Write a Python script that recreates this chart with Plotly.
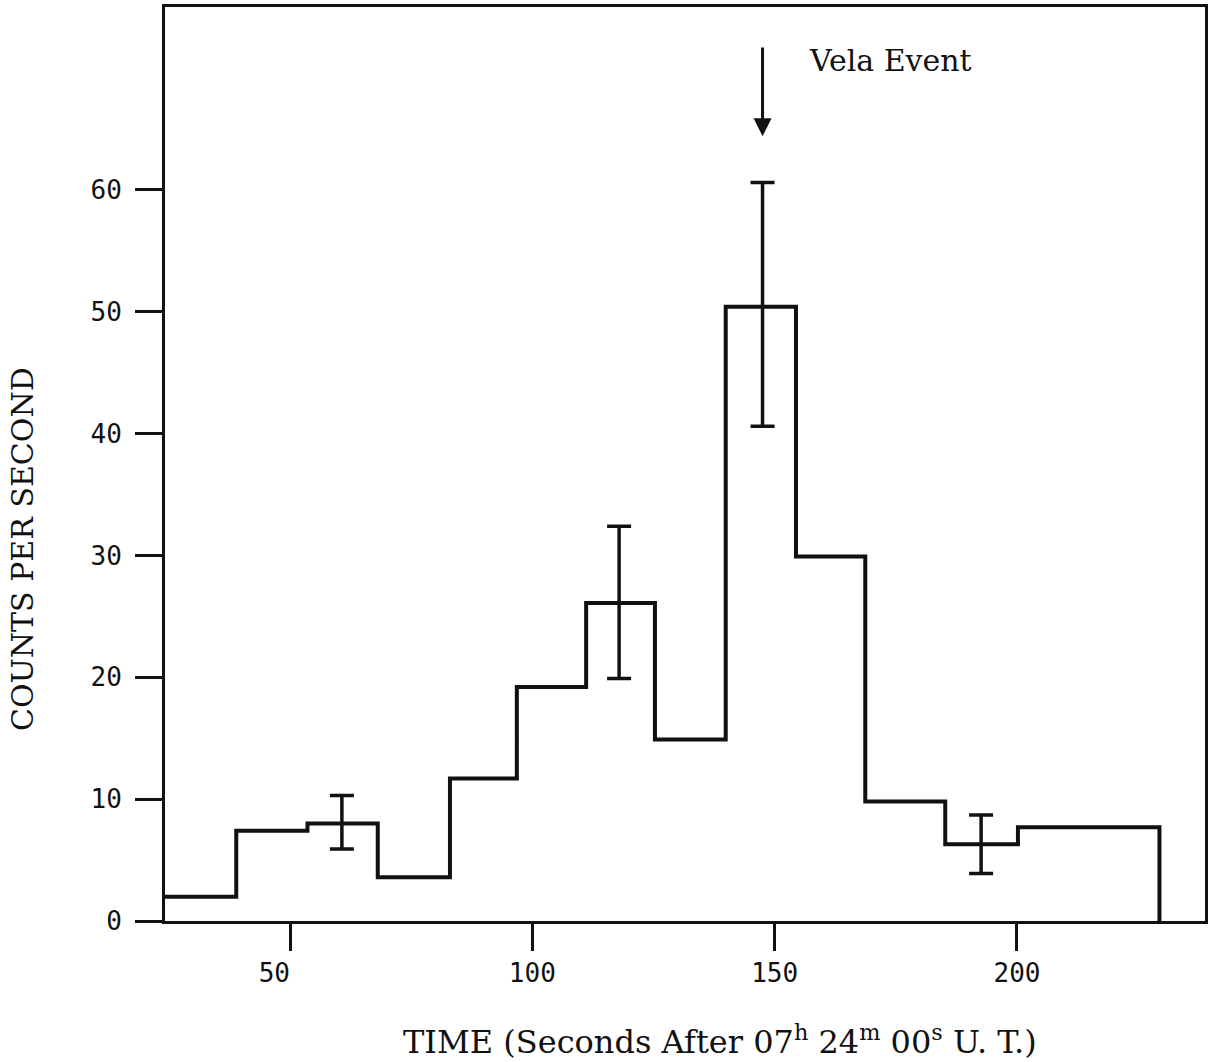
import plotly.graph_objects as go

# Histogram bin edges (seconds after 07h 24m 00s U.T.) and count rates per bin
bin_edges = [24.2, 38.9, 53.6, 68.1, 83.0, 96.8, 111.1, 125.3, 139.9, 154.4, 168.7, 185.2, 200.2, 229.4]
counts = [2.0, 7.4, 8.0, 3.6, 11.7, 19.2, 26.1, 14.9, 50.4, 29.9, 9.8, 6.3, 7.7]

# Representative error bars
err_time = [60.7, 117.9, 147.5, 192.6]
err_rate = [8.0, 26.1, 50.4, 6.3]
err_high = [10.3, 32.4, 60.6, 8.7]
err_low = [5.9, 19.9, 40.6, 3.9]

# Vela event marker
vela_time = 147.5
vela_label = "Vela Event"

x_ticks = [50, 100, 150, 200]
x_tick_text = ["50\u00a0\u00a0", "100", "150", "200"]
y_ticks = [0, 10, 20, 30, 40, 50, 60]

INK = "#111111"

# step outline: each level held until the next edge, final drop to zero
step_x = bin_edges + [bin_edges[-1]]
step_y = counts + [counts[-1], 0]

fig = go.Figure()
fig.add_trace(go.Scatter(
    x=step_x, y=step_y, mode="lines", line_shape="hv",
    line=dict(color=INK, width=4), showlegend=False, hoverinfo="skip",
))
fig.add_trace(go.Scatter(
    x=err_time, y=err_rate, mode="markers",
    marker=dict(size=1, color="rgba(0,0,0,0)"),
    error_y=dict(
        type="data", symmetric=False,
        array=[h - r for h, r in zip(err_high, err_rate)],
        arrayminus=[r - l for r, l in zip(err_rate, err_low)],
        color=INK, thickness=3.5, width=12,
    ),
    showlegend=False,
))

fig.add_annotation(
    x=vela_time, y=64.4, ax=vela_time, ay=71.8, xref="x", yref="y",
    axref="x", ayref="y", text="", showarrow=True,
    arrowhead=2, arrowsize=1.2, arrowwidth=3, arrowcolor=INK,
)
fig.add_annotation(
    x=156.6, y=70.6, xref="x", yref="y", text=vela_label, showarrow=False,
    xanchor="left", yanchor="middle",
    font=dict(family="DejaVu Serif", size=30, color=INK),
)

# axis titles
fig.add_annotation(
    x=-0.1375, y=0.407, xref="paper", yref="paper", text="COUNTS PER SECOND",
    textangle=-90, showarrow=False, xanchor="center", yanchor="middle",
    font=dict(family="DejaVu Serif", size=30, color=INK),
)
fig.add_annotation(
    x=0.534, y=-0.13, xref="paper", yref="paper",
    text="TIME (Seconds After 07<sup>h</sup> 24<sup>m</sup> 00<sup>s</sup> U. T.)",
    showarrow=False, xanchor="center", yanchor="middle",
    font=dict(family="DejaVu Serif", size=32, color=INK),
)

fig.update_xaxes(
    range=[24.2, 238.8], tickvals=x_ticks, ticktext=x_tick_text,
    ticks="outside", ticklen=27, tickwidth=3, tickcolor=INK,
    showline=True, linewidth=3, linecolor=INK, mirror=True,
    showgrid=False, zeroline=False, ticklabelstandoff=0,
    tickfont=dict(family="DejaVu Sans Mono", size=26, color=INK),
)
fig.update_yaxes(
    range=[0, 75], tickvals=y_ticks,
    ticks="outside", ticklen=27, tickwidth=3, tickcolor=INK,
    showline=True, linewidth=3, linecolor=INK, mirror=True,
    showgrid=False, zeroline=False, ticklabelstandoff=8,
    tickfont=dict(family="DejaVu Sans Mono", size=26, color=INK),
)

fig.update_layout(
    width=1220, height=1062,
    margin=dict(l=165, r=15, t=4, b=141),
    paper_bgcolor="white", plot_bgcolor="white",
)

fig.write_html("out.html")
